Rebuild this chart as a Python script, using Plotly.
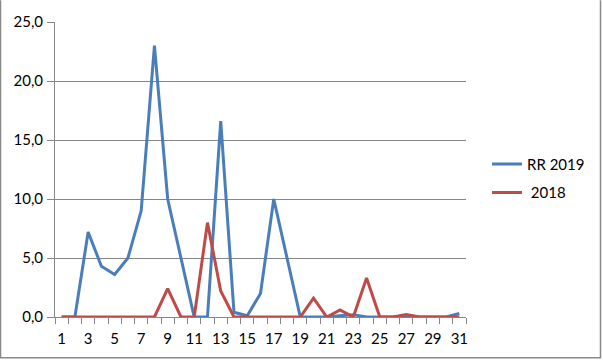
import plotly.graph_objects as go

days = list(range(1, 32))
rr2019 = [0, 0, 7.2, 4.3, 3.6, 5.0, 9.0, 23.0, 10.0, 5.0, 0, 0, 16.6, 0.4, 0.1, 2.0,
          10.0, 5.0, 0, 0, 0, 0.1, 0.2, 0, 0, 0, 0.1, 0, 0, 0, 0.3]
y2018 = [0, 0, 0, 0, 0, 0, 0, 0, 2.4, 0, 0, 8.0, 2.2, 0, 0, 0,
         0, 0, 0, 1.6, 0, 0.6, 0, 3.3, 0, 0, 0.2, 0, 0, 0, 0]
xlabels = [str(d) for d in days if d % 2 == 1]
xlabel_vals = [d for d in days if d % 2 == 1]
ytick_vals = [0, 5, 10, 15, 20, 25]

W, H = 603, 360
L, R, T, B = 55, 137, 17, 43
pw, ph = W - L - R, H - T - B

fig = go.Figure()
fig.add_trace(go.Scatter(x=days, y=rr2019, mode="lines", name="RR 2019",
                         line=dict(color="#4A7EBB", width=3), legendgroup="a"))
fig.add_trace(go.Scatter(x=days, y=y2018, mode="lines", name=" 2018",
                         line=dict(color="#BE4B48", width=3), legendgroup="b"))

font = dict(family="Lato", size=15, color="#000000")
fig.update_layout(
    width=W, height=H,
    margin=dict(l=L, r=R, t=T, b=B, pad=0),
    paper_bgcolor="white", plot_bgcolor="white",
    separators=", ",
    font=font,
    showlegend=True,
    legend=dict(x=(487 - L) / pw, xanchor="left", y=(T + ph - 145) / ph, yanchor="top",
                font=font, tracegroupgap=6, bgcolor="rgba(0,0,0,0)"),
    xaxis=dict(range=[0.5, 31.5], tickmode="array", tickvals=xlabel_vals, ticktext=xlabels,
               ticks="", showgrid=False, zeroline=False, showline=True, linecolor="#868686",
               linewidth=1, tickfont=font, ticklabelstandoff=8,
               minor=dict(tickmode="linear", tick0=0.5, dtick=1, ticks="outside", ticklen=6,
                          tickcolor="#868686", tickwidth=1, showgrid=False)),
    yaxis=dict(range=[0, 25], tickmode="array", tickvals=ytick_vals, tickformat=".1f",
               ticks="outside", ticklen=7, tickcolor="#868686", showgrid=True,
               gridcolor="#868686", gridwidth=1, zeroline=False, showline=True,
               linecolor="#868686", linewidth=1, tickfont=font, ticklabelstandoff=1),
)
x0 = (0.5 - L) / pw
x1 = (600.5 - L) / pw
yb = (T + ph - 358.5) / ph
yt = (T + ph + 5) / ph
fig.add_shape(type="path", xref="paper", yref="paper",
              path=f"M {x0},{yt} L {x0},{yb} L {x1},{yb} L {x1},{yt}",
              line=dict(color="#898989", width=1.5), layer="below")
fig.write_html("out.html")
